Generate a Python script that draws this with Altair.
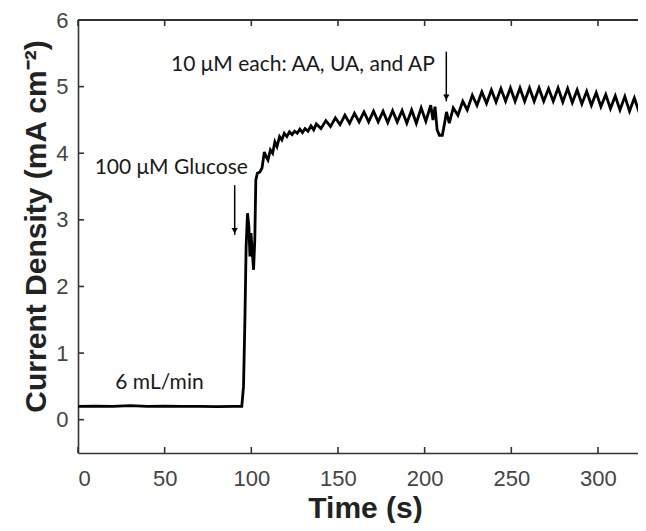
import altair as alt
import pandas as pd

# ---- data ----
time_s = [0, 10, 20, 30, 40, 50, 60, 70, 80, 90, 94.5,
          95.5, 96.3, 97.0, 97.8, 98.6, 99.2, 99.8, 100.6, 101.3, 102.0, 102.6,
          103.5, 105.0, 106.2, 107.5, 108.5, 109.6, 111.0, 112.3, 113.6, 114.8,
          116.3, 117.6, 119.0, 120.5, 122.0, 123.5, 125.0, 126.5, 128.0, 129.5,
          131.0, 132.7, 134.4, 136.0, 137.5, 140.2, 143.0, 145.7, 148.5, 151.2,
          154.0, 156.7, 159.5, 162.2, 165.0, 167.7, 170.5, 173.2, 176.0, 178.7,
          181.5, 184.2, 187.0, 189.7, 192.5, 195.2, 198.0, 200.7, 203.5, 204.8,
          206.0, 207.2, 208.5, 210.2, 211.5, 212.6, 214.2, 216.5, 219.2, 222.0,
          224.6, 227.5, 230.2, 233.0, 235.7, 238.5, 241.2, 244.0, 246.7, 249.5,
          252.2, 255.0, 257.7, 260.5, 263.2, 266.0, 268.7, 271.5, 274.2, 277.0,
          279.7, 282.5, 285.2, 288.0, 290.7, 293.5, 296.2, 299.0, 301.7, 304.5,
          307.2, 310.0, 312.7, 315.5, 318.2, 321.0, 323.7, 325.0, 326.0, 327.0]
current = [0.20, 0.205, 0.20, 0.21, 0.20, 0.205, 0.20, 0.20, 0.195, 0.20, 0.20,
           0.5, 1.5, 2.6, 3.1, 2.9, 2.45, 2.8, 2.5, 2.25, 2.7, 3.6,
           3.7, 3.72, 3.78, 4.02, 3.95, 3.9, 4.05, 4.0, 4.17, 4.1,
           4.25, 4.2, 4.3, 4.25, 4.32, 4.28, 4.33, 4.30, 4.36, 4.31,
           4.37, 4.33, 4.41, 4.35, 4.44, 4.37, 4.49, 4.40, 4.53, 4.43,
           4.57, 4.45, 4.60, 4.47, 4.62, 4.47, 4.63, 4.47, 4.63, 4.46,
           4.64, 4.47, 4.64, 4.45, 4.65, 4.45, 4.68, 4.48, 4.72, 4.50,
           4.70, 4.35, 4.27, 4.27, 4.45, 4.62, 4.45, 4.68, 4.57, 4.78,
           4.65, 4.87, 4.72, 4.92, 4.75, 4.95, 4.77, 4.97, 4.78, 4.98,
           4.78, 4.98, 4.78, 4.98, 4.78, 4.98, 4.78, 4.97, 4.78, 4.98,
           4.77, 4.97, 4.76, 4.95, 4.74, 4.93, 4.72, 4.91, 4.70, 4.88,
           4.67, 4.86, 4.65, 4.85, 4.63, 4.83, 4.62, 4.55, 4.80, 4.70]

x_ticks = [0, 50, 100, 150, 200, 250, 300]
y_ticks = [0, 1, 2, 3, 4, 5, 6]

labels = ["6 mL/min", "100 \u03bcM Glucose", "10 \u03bcM each: AA, UA, and AP"]
label_t = [47.0, 53.8, 129.8]
label_v = [0.555, 3.78, 5.325]

arrow_t = [90.4, 212.5]
arrow_top = [3.52, 5.525]
arrow_tip = [2.775, 4.78]

# ---- frames ----
line_df = pd.DataFrame({"t": time_s, "v": current})
xt_df = pd.DataFrame({"t": x_ticks})
yt_df = pd.DataFrame({"v": y_ticks})
lab_df = pd.DataFrame({"t": label_t, "v": label_v, "label": labels})
arr_df = pd.DataFrame({"t": arrow_t, "v": arrow_top, "v2": arrow_tip})
head_df = pd.DataFrame({"t": arrow_t, "v": [a + 0.06 for a in arrow_tip]})

W, H = 560, 433

xscale = alt.Scale(domain=[0, 323.1], nice=False, zero=False)
yscale = alt.Scale(domain=[-0.5, 6], nice=False, zero=False)

xaxis = alt.Axis(values=x_ticks, ticks=False, grid=False, labelPadding=15,
                 labelFontSize=22, labelFont="Liberation Sans", labelColor="#454545",
                 domainColor="#333333", domainWidth=1.6,
                 titleFont="Liberation Sans", titleFontSize=30, titleFontWeight="bold",
                 titleColor="#222222", titleX=287, titleY=64, titleAlign="center",
                 titleBaseline="alphabetic")
yaxis = alt.Axis(values=y_ticks, ticks=False, grid=False, labelPadding=10,
                 labelFontSize=22, labelFont="Liberation Sans", labelColor="#454545",
                 domainColor="#333333", domainWidth=1.6,
                 titleFont="Liberation Sans", titleFontSize=30, titleFontWeight="bold",
                 titleColor="#222222", titleAngle=270, titleX=-33, titleY=206,
                 titleAlign="center", titleBaseline="alphabetic")

X = alt.X("t:Q", scale=xscale, axis=xaxis, title="Time (s)")
Y = alt.Y("v:Q", scale=yscale, axis=yaxis, title="Current Density (mA cm\u207b\u00b2)")

curve = alt.Chart(line_df).mark_line(color="black", strokeWidth=2.8, clip=True).encode(x=X, y=Y)

bottom_ticks = alt.Chart(xt_df).mark_rule(color="#333333", strokeWidth=1.6).encode(
    x=X, y=alt.value(H), y2=alt.value(H - 6))
top_ticks = alt.Chart(xt_df).mark_rule(color="#333333", strokeWidth=1.6).encode(
    x=X, y=alt.value(0), y2=alt.value(6))
left_ticks = alt.Chart(yt_df).mark_rule(color="#333333", strokeWidth=1.6).encode(
    y=Y, x=alt.value(0), x2=alt.value(6))
top_line = alt.Chart(xt_df).mark_rule(color="#333333", strokeWidth=1.6).encode(
    x=alt.value(0), x2=alt.value(W), y=alt.value(0))

texts = alt.Chart(lab_df).mark_text(font="Lato", fontSize=21, color="#1a1a1a",
                                    align="center", baseline="middle").encode(
    x=X, y=Y, text="label:N")

shafts = alt.Chart(arr_df).mark_rule(color="black", strokeWidth=1.5).encode(
    x=X, y=Y, y2="v2:Q")
heads = alt.Chart(head_df).mark_point(shape="triangle-down", filled=True, color="black",
                                      size=40, opacity=1).encode(x=X, y=Y)

chart = alt.layer(curve, bottom_ticks, top_ticks, left_ticks, top_line, shafts, heads, texts).properties(
    width=W, height=H,
    autosize=alt.AutoSizeParams(type="none"),
    padding={"left": 70, "top": 12, "right": 0, "bottom": 70},
).configure_view(stroke="transparent")

chart.save("out.html", embed_options={"renderer": "svg", "actions": False})
